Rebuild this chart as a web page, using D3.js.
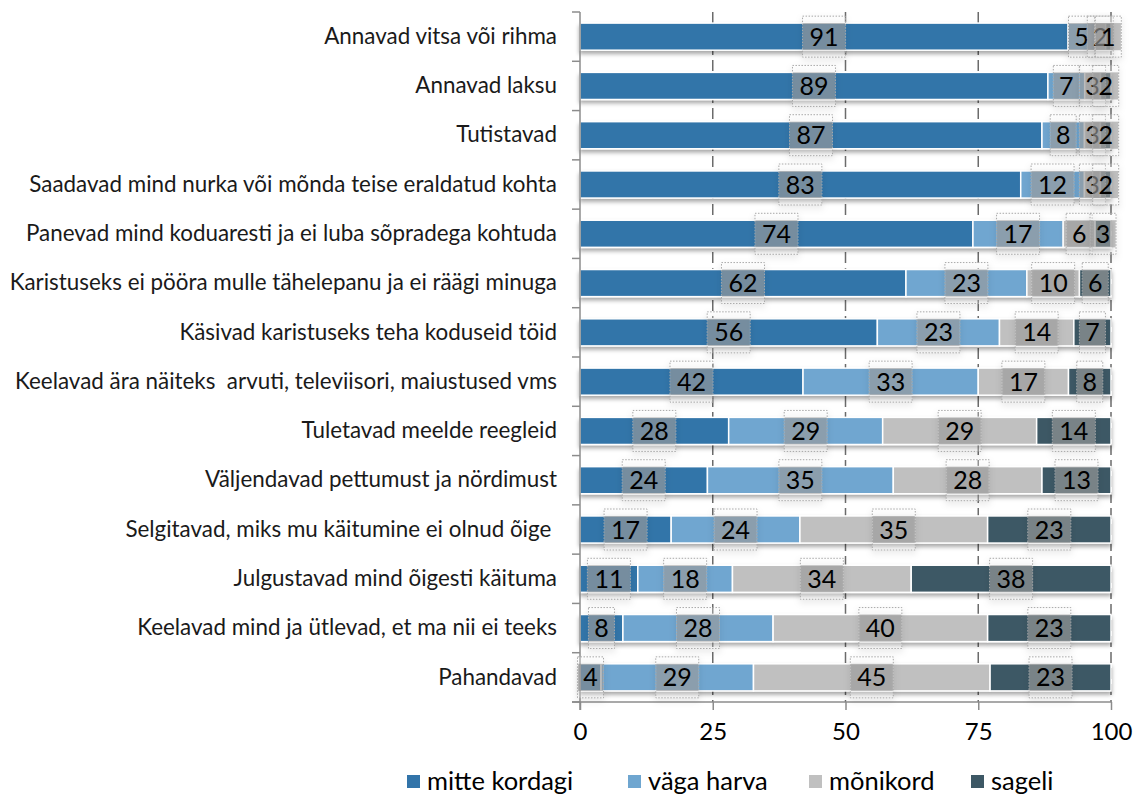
<!DOCTYPE html>
<html><head><meta charset="utf-8">
<script src="https://cdn.jsdelivr.net/npm/d3@7"></script>
<style>
body{margin:0;background:#fff;}
text{font-family:Lato, "Open Sans", sans-serif;}
</style></head>
<body><svg id="c" width="1139" height="794"></svg>
<script>
const categories = [
 "Annavad vitsa või rihma",
 "Annavad laksu",
 "Tutistavad",
 "Saadavad mind nurka või mõnda teise eraldatud kohta",
 "Panevad mind koduaresti ja ei luba sõpradega kohtuda",
 "Karistuseks ei pööra mulle tähelepanu ja ei räägi minuga",
 "Käsivad karistuseks teha koduseid töid",
 "Keelavad ära näiteks  arvuti, televiisori, maiustused vms",
 "Tuletavad meelde reegleid",
 "Väljendavad pettumust ja nördimust",
 "Selgitavad, miks mu käitumine ei olnud õige ",
 "Julgustavad mind õigesti käituma",
 "Keelavad mind ja ütlevad, et ma nii ei teeks",
 "Pahandavad"
];
const seriesNames = ["mitte kordagi","väga harva","mõnikord","sageli"];
const mitteKordagi = [91,89,87,83,74,62,56,42,28,24,17,11,8,4];
const vagaHarva    = [5,7,8,12,17,23,23,33,29,35,24,18,28,29];
const monikord     = [2,3,3,3,6,10,14,17,29,28,35,34,40,45];
const sageli       = [1,2,2,2,3,6,7,8,14,13,23,38,23,23];
const tickValues = [0,25,50,75,100];
const colors = ["#3274a9","#6fa6d0","#c0c0c0","#3d5865"];

const svg = d3.select("#c");
const defs = svg.append("defs");
const f = defs.append("filter").attr("id","sh").attr("x","-20%").attr("y","-30%").attr("width","140%").attr("height","190%");
f.append("feDropShadow").attr("dx",0).attr("dy",3).attr("stdDeviation",2).attr("flood-color","#000").attr("flood-opacity",0.35);
const f2 = defs.append("filter").attr("id","sh2").attr("x","-40%").attr("y","-40%").attr("width","180%").attr("height","200%");
f2.append("feDropShadow").attr("dx",0).attr("dy",3).attr("stdDeviation",3).attr("flood-color","#000").attr("flood-opacity",0.25);

const x = d3.scaleLinear().domain([0,100]).range([580,1111]);
const y = d3.scaleBand().domain(categories).range([12,702]).paddingInner(0.45).paddingOuter(0.225);
const idx = d3.scaleLinear().domain([0,categories.length]).range([12,702]);

// gridlines
svg.append("g").selectAll("line").data(tickValues.slice(1)).join("line")
  .attr("x1",d=>x(d)).attr("x2",d=>x(d)).attr("y1",12).attr("y2",702)
  .attr("stroke","#6b6b6b").attr("stroke-width",1.5).attr("stroke-dasharray","11,5");

// stacked data
const series = [mitteKordagi,vagaHarva,monikord,sageli];
const rows = categories.map((c,i)=>{
  const vals = series.map(s=>s[i]);
  const tot = d3.sum(vals);
  let cum = 0;
  return vals.map((v,k)=>{ const s0 = cum/tot*100; cum += v; return {cat:c,k,v,x0:s0,x1:cum/tot*100}; });
});
const segs = rows.flat();

const bh = y.bandwidth();
svg.append("g").attr("filter","url(#sh)").selectAll("rect").data(segs).join("rect")
  .attr("x",d=>x(d.x0)).attr("width",d=>x(d.x1)-x(d.x0))
  .attr("y",d=>y(d.cat)).attr("height",bh)
  .attr("fill",d=>colors[d.k]).attr("stroke","#fff").attr("stroke-width",1.5);

// axes
const gl = svg.append("g");
gl.append("line").attr("x1",580).attr("x2",580).attr("y1",12).attr("y2",710).attr("stroke","#8c8c8c").attr("stroke-width",1.5);
gl.selectAll("line.t").data(d3.range(categories.length+1)).join("line").attr("class","t")
  .attr("x1",572).attr("x2",580).attr("y1",d=>idx(d)).attr("y2",d=>idx(d)).attr("stroke","#8c8c8c").attr("stroke-width",1.5);

svg.append("g").attr("transform","translate(0,702)")
  .call(d3.axisBottom(x).tickValues(tickValues).tickSize(8).tickPadding(13).tickFormat(d3.format("d")))
  .call(g=>{g.select(".domain").remove();
    g.selectAll(".tick line").attr("stroke","#8c8c8c").attr("stroke-width",1.5);
    g.selectAll("text").attr("font-size",24).attr("fill","#000").style("font-family","Lato, sans-serif");});
svg.append("line").attr("x1",572).attr("x2",1111).attr("y1",702).attr("y2",702).attr("stroke","#8c8c8c").attr("stroke-width",1.5);

// category labels
svg.append("g").attr("transform","translate(557,0)")
  .call(d3.axisLeft(y).tickSize(0).tickPadding(0))
  .call(g=>{g.select(".domain").remove();
    g.selectAll("text").attr("font-size",22.4).attr("fill","#1a1a1a").style("font-family","Lato, sans-serif")
     .style("white-space","pre").attr("xml:space","preserve");});

// data labels
const lab = svg.append("g");
const lg = lab.selectAll("g").data(segs).join("g")
  .attr("transform",d=>`translate(${x((d.x0+d.x1)/2)},${y(d.cat)+bh/2})`);
lg.append("rect").attr("filter","url(#sh2)")
  .attr("x",d=>-(String(d.v).length>1?21.5:13)).attr("width",d=>String(d.v).length>1?43:26)
  .attr("y",-20.5).attr("height",41)
  .attr("fill","rgba(255,255,255,0.25)").attr("stroke","#a8a8a8").attr("stroke-width",1).attr("stroke-dasharray","1.5,1.5");
lg.append("rect")
  .attr("x",d=>-(String(d.v).length>1?21:12.5)).attr("width",d=>String(d.v).length>1?42:25)
  .attr("y",-bh/2).attr("height",bh)
  .attr("fill","rgba(130,130,130,0.5)");
lg.append("text").attr("text-anchor","middle").attr("dy","0.36em")
  .attr("font-size",25).attr("fill","#000").text(d=>d.v);

// legend
const legX = [407,628,809,971];
const leg = svg.append("g").selectAll("g").data(seriesNames).join("g")
  .attr("transform",(d,i)=>`translate(${legX[i]},781)`);
leg.append("rect").attr("x",0).attr("y",-6).attr("width",13).attr("height",13).attr("fill",(d,i)=>colors[i]);
leg.append("text").attr("x",20).attr("dy","0.36em").attr("font-size",25.5).attr("fill","#000").text(d=>d);
</script></body></html>
